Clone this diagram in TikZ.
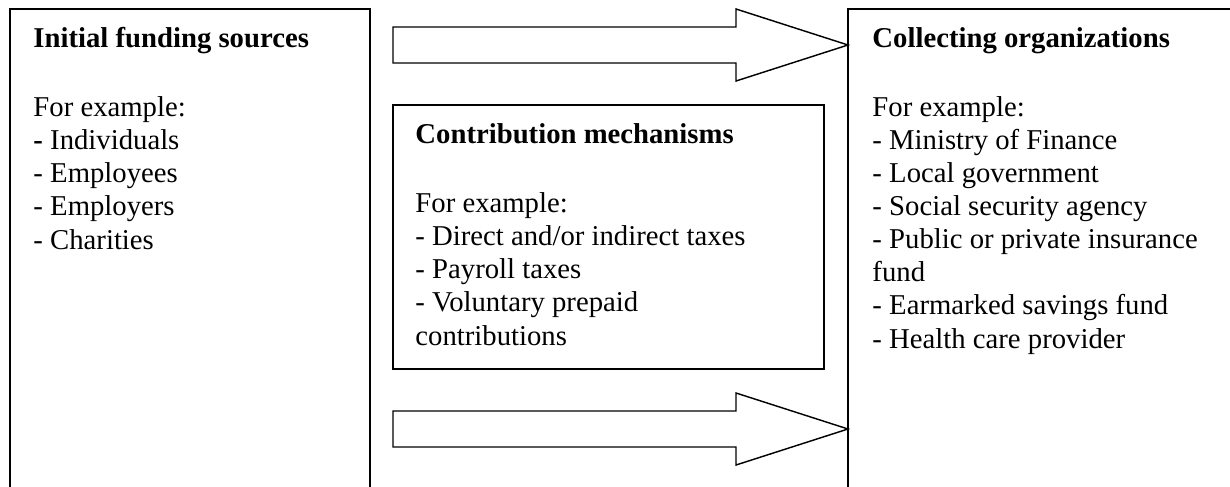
\documentclass[tikz,border=0pt]{standalone}
\usepackage{fontspec}
\setmainfont{Liberation Serif}
\def\px{0.418pt}
\begin{document}
\begin{tikzpicture}[x=0.418pt,y=-0.418pt,
  box/.style={draw=black, line width=0.84pt, inner sep=0pt, outer sep=0pt, anchor=north west},
  flow/.style={draw=black, line width=0.6pt, line join=miter},
  heading/.style={anchor=base west, inner sep=0pt, font=\fontsize{12pt}{13.8pt}\selectfont\bfseries},
  % multi-line lists are anchored at the baseline of their last line
  itemlist/.style={anchor=base west, inner sep=0pt, align=left, font=\fontsize{12pt}{13.8pt}\selectfont},
  blockarrow/.pic={
    \draw[flow] (0,-18) -- (343,-18) -- (343,-36) -- (455,0) -- (343,36) -- (343,18) -- (0,18) -- cycle;
  }]
\useasboundingbox (0,0) rectangle (1230,486);
\clip (0,0) rectangle (1230,486);

% the three boxes (outer ones run past the page edge)
\node[box, minimum width=360*\px, minimum height=540*\px] (src) at (10,9) {};
\node[box, minimum width=431*\px, minimum height=264*\px] (mech) at (393,105) {};
\node[box, minimum width=420*\px, minimum height=540*\px] (org) at (848,9) {};

% block arrows from sources to collecting organizations
\pic at (393,45) {blockarrow};
\pic at (393,429) {blockarrow};

% texts
\node[heading] (srcT) at (33,47) {Initial funding sources};
\node[itemlist] (srcB) at (33,249) {For example:\\\textbf{-} Individuals\\- Employees\\- Employers\\- Charities};

\node[heading] (mechT) at (415,143) {Contribution mechanisms};
\node[itemlist] (mechB) at (415,345) {For example:\\- Direct and/or indirect taxes\\- Payroll taxes\\- Voluntary prepaid\\contributions};

\node[heading] (orgT) at (872,47) {Collecting organizations};
\node[itemlist] (orgB) at (872,348) {For example:\\- Ministry of Finance\\- Local government\\- Social security agency\\- Public or private insurance\\fund\\- Earmarked savings fund\\- Health care provider};
\end{tikzpicture}
\end{document}
